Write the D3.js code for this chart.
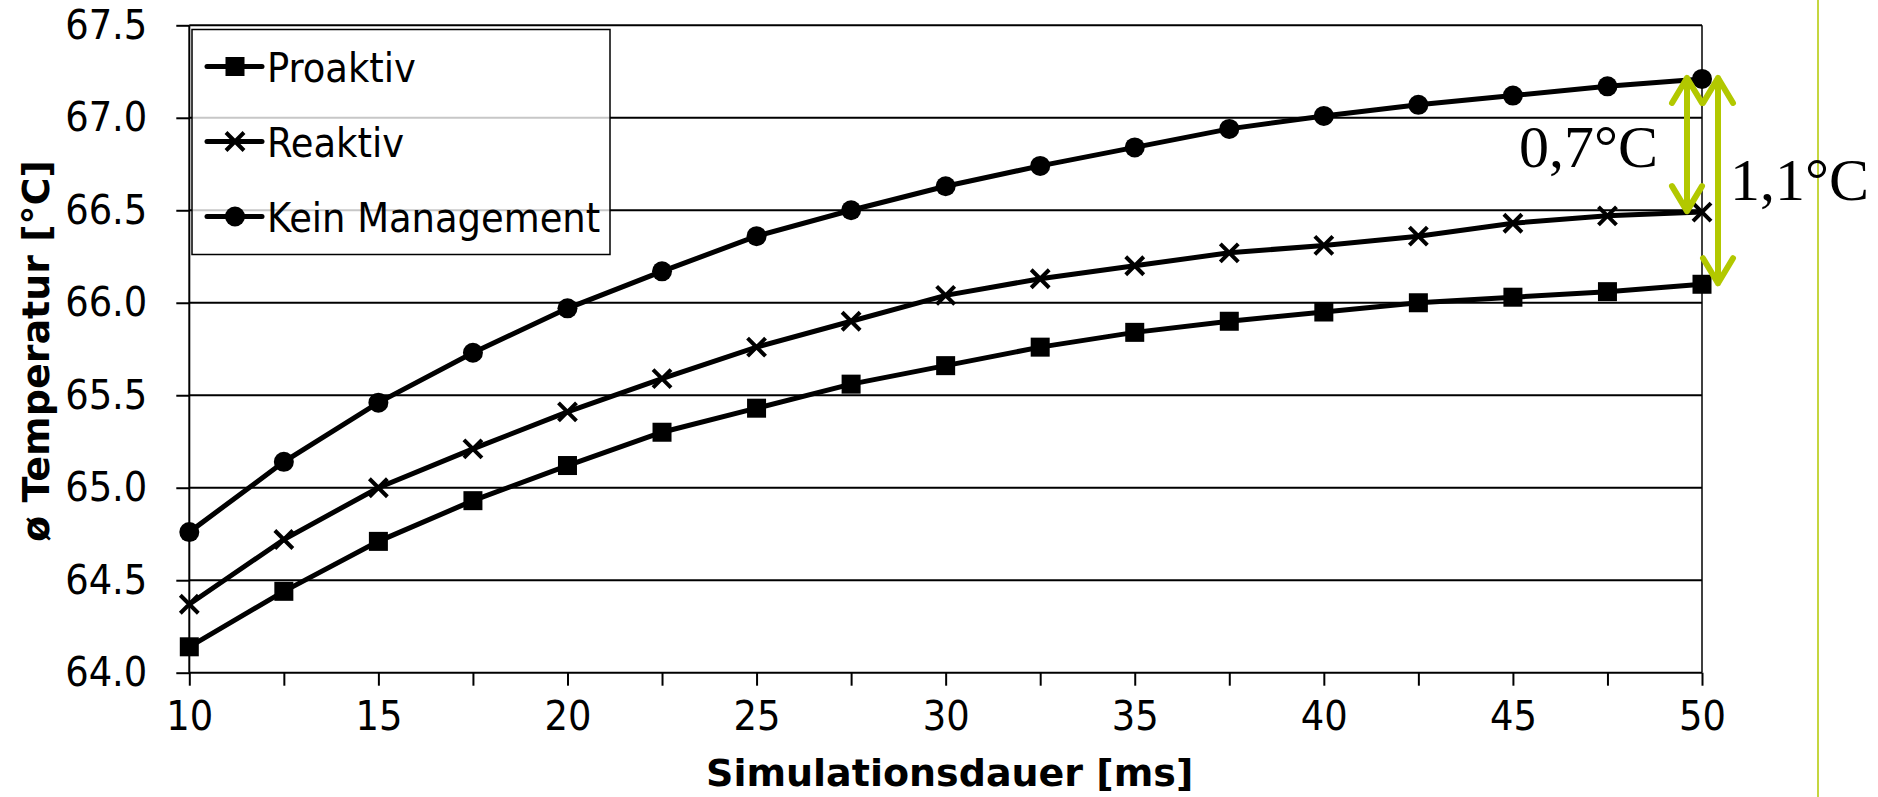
<!DOCTYPE html>
<html lang="de">

<head>
  <meta charset="UTF-8">
  <title>Temperatur Simulation</title>
  <script src="https://d3js.org/d3.v7.min.js"></script>
  <style>
    body {
      margin: 0;
      background: white;
    }

    .tick text {
      font-family: "DejaVu Sans Condensed", "DejaVu Sans", sans-serif;
      font-stretch: condensed;
      font-size: 41px;
      fill: black;
    }

    .tick line,
    .domain {
      stroke: black;
      stroke-width: 2px;
    }

    .grid {
      stroke: black;
      stroke-width: 2px;
    }

    .axisTitle {
      font-family: "DejaVu Sans", Verdana, sans-serif;
      font-weight: bold;
      font-size: 38px;
    }

    .series {
      fill: none;
      stroke: black;
      stroke-width: 5px;
    }

    .legendText {
      font-family: "DejaVu Sans Condensed", "DejaVu Sans", sans-serif;
      font-stretch: condensed;
      font-size: 41px;
    }

    .note {
      font-family: "Liberation Serif", "Times New Roman", serif;
      font-size: 60px;
    }
  </style>
</head>

<body>
  <svg id="chart" width="1878" height="797"></svg>

  <script>
    // data
    const dauer = [10, 12.5, 15, 17.5, 20, 22.5, 25, 27.5, 30, 32.5, 35, 37.5, 40, 42.5, 45, 47.5, 50];
    const proaktiv = [64.14, 64.44, 64.71, 64.93, 65.12, 65.30, 65.43, 65.56, 65.66, 65.76, 65.84, 65.90, 65.95, 66.00, 66.03, 66.06, 66.10];
    const reaktiv = [64.37, 64.72, 65.00, 65.21, 65.41, 65.59, 65.76, 65.90, 66.04, 66.13, 66.20, 66.27, 66.31, 66.36, 66.43, 66.47, 66.49];
    const keinManagement = [64.76, 65.14, 65.46, 65.73, 65.97, 66.17, 66.36, 66.50, 66.63, 66.74, 66.84, 66.94, 67.01, 67.07, 67.12, 67.17, 67.21];
    const seriesNames = ["Proaktiv", "Reaktiv", "Kein Management"];
    const yTicks = [64.0, 64.5, 65.0, 65.5, 66.0, 66.5, 67.0, 67.5];
    const xTicks = [10, 12.5, 15, 17.5, 20, 22.5, 25, 27.5, 30, 32.5, 35, 37.5, 40, 42.5, 45, 47.5, 50];
    const notes = ["0,7°C", "1,1°C"];

    const svg = d3.select("#chart");
    const margin = { top: 25.3, right: 176, bottom: 124.3, left: 189.3 };
    const width = +svg.attr("width") - margin.left - margin.right;
    const height = +svg.attr("height") - margin.top - margin.bottom;
    const green = "#b2c800";

    const g = svg.append("g")
      .attr("transform", "translate(" + margin.left + "," + margin.top + ")");

    const x = d3.scaleLinear().domain([10, 50]).range([0, width]);
    const y = d3.scaleLinear().domain([64, 67.5]).range([height, 0]);

    // thin green line at the right side
    svg.append("line")
      .attr("x1", 1818).attr("x2", 1818)
      .attr("y1", 0).attr("y2", 797)
      .attr("stroke", green)
      .attr("stroke-width", 1.5);

    // horizontal grid
    g.selectAll(".grid").data(yTicks.slice(1))
      .join("line")
      .attr("class", "grid")
      .attr("x1", 0).attr("x2", width)
      .attr("y1", d => y(d)).attr("y2", d => y(d));

    // right frame
    g.append("line")
      .attr("x1", width).attr("x2", width)
      .attr("y1", 0).attr("y2", height)
      .attr("stroke", "black")
      .attr("stroke-width", 1.5);

    g.append("g")
      .attr("transform", "translate(0," + height + ")")
      .call(d3.axisBottom(x).tickValues(xTicks).tickSize(13).tickPadding(15)
        .tickFormat(d => d % 5 === 0 ? d : ""))
      .call(a => a.select(".domain").attr("d", "M0,0H" + width));

    g.append("g")
      .call(d3.axisLeft(y).tickValues(yTicks).tickSize(13).tickPadding(29)
        .tickFormat(d3.format(".1f")))
      .call(a => a.select(".domain").attr("d", "M0,0V" + height));

    // axis titles
    svg.append("text")
      .attr("class", "axisTitle")
      .attr("x", margin.left + x(30) + 4)
      .attr("y", 786)
      .attr("text-anchor", "middle")
      .text("Simulationsdauer [ms]");

    svg.append("text")
      .attr("class", "axisTitle")
      .attr("transform", "translate(49,351) rotate(-90)")
      .attr("text-anchor", "middle")
      .text("ø Temperatur [°C]");

    // markers
    const drawMarker = function (sel, kind) {
      if (kind === 0) {
        sel.append("rect").attr("x", -9.5).attr("y", -9.5)
          .attr("width", 19).attr("height", 19).attr("fill", "black");
      } else if (kind === 1) {
        sel.append("path").attr("d", "M-9,-9L9,9M-9,9L9,-9")
          .attr("stroke", "black").attr("stroke-width", 4);
      } else {
        sel.append("circle").attr("r", 10).attr("fill", "black");
      }
    };

    const allSeries = [proaktiv, reaktiv, keinManagement];
    const line = d3.line().x((d, i) => x(dauer[i])).y(d => y(d));

    allSeries.forEach((vals, k) => {
      g.append("path").datum(vals)
        .attr("class", "series")
        .attr("d", line);
      g.selectAll(".m" + k).data(vals)
        .join("g")
        .attr("class", "m" + k)
        .attr("transform", (d, i) => "translate(" + x(dauer[i]) + "," + y(d) + ")")
        .each(function () { drawMarker(d3.select(this), k); });
    });

    // legend
    const legend = svg.append("g").attr("transform", "translate(192,29.5)");
    legend.append("rect")
      .attr("width", 418).attr("height", 225)
      .attr("fill", "white").attr("fill-opacity", 0.78)
      .attr("stroke", "black").attr("stroke-width", 1.5);

    seriesNames.forEach((name, k) => {
      const row = legend.append("g")
        .attr("transform", "translate(0," + (37 + k * 75) + ")");
      row.append("line")
        .attr("x1", 15).attr("x2", 70)
        .attr("stroke", "black").attr("stroke-width", 5)
        .attr("stroke-linecap", "round");
      drawMarker(row.append("g").attr("transform", "translate(43,0)"), k);
      row.append("text")
        .attr("class", "legendText")
        .attr("x", 75).attr("y", 15)
        .text(name);
    });

    // difference arrows
    const last = dauer.length - 1;
    const arrows = [
      { xPos: x(50) - 15, from: keinManagement[last], to: reaktiv[last] },
      { xPos: x(50) + 16, from: keinManagement[last], to: proaktiv[last] }
    ];
    arrows.forEach(a => {
      const ax = margin.left + a.xPos;
      const y1 = margin.top + y(a.from) - 1;
      const y2 = margin.top + y(a.to) - 1;
      svg.append("path")
        .attr("d", "M" + ax + "," + y1 + "V" + y2 +
          "M" + (ax - 15) + "," + (y1 + 25) + "L" + ax + "," + y1 + "L" + (ax + 15) + "," + (y1 + 25) +
          "M" + (ax - 15) + "," + (y2 - 25) + "L" + ax + "," + y2 + "L" + (ax + 15) + "," + (y2 - 25))
        .attr("fill", "none")
        .attr("stroke", green)
        .attr("stroke-width", 6)
        .attr("stroke-linecap", "round")
        .attr("stroke-linejoin", "round");
    });

    svg.append("text")
      .attr("class", "note")
      .attr("x", 1658).attr("y", 167)
      .attr("text-anchor", "end")
      .text(notes[0]);

    svg.append("text")
      .attr("class", "note")
      .attr("x", 1730).attr("y", 200)
      .text(notes[1]);
  </script>
</body>

</html>
